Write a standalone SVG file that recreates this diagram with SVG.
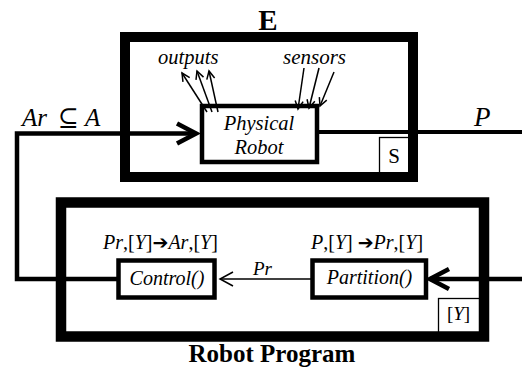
<svg xmlns="http://www.w3.org/2000/svg" width="522" height="369" viewBox="0 0 522 369" font-family="'Liberation Serif', 'Times New Roman', 'DejaVu Serif', serif">
<style>
.it{font-style:italic}
.frame{fill:none;stroke:#000;stroke-width:10.5}
.box{fill:#fff;stroke:#000;stroke-width:4.5}
.tag{fill:#fff;stroke:#000;stroke-width:1.3}
.wire{fill:none;stroke:#000;stroke-width:4.5}
.thin{fill:none;stroke:#000;stroke-width:1.5}
.arr{font-family:'DejaVu Sans',sans-serif;font-style:normal}
</style>
<defs>
<marker id="heavy" markerUnits="userSpaceOnUse" viewBox="0 0 26 26" markerWidth="26" markerHeight="26" refX="22" refY="13" orient="auto">
<path d="M3,3 L22,13 L3,23" fill="none" stroke="#000" stroke-width="4.5"/>
</marker>
<marker id="thinhead" markerUnits="userSpaceOnUse" viewBox="0 0 18 18" markerWidth="18" markerHeight="18" refX="15" refY="9" orient="auto">
<path d="M2,2 L15,9 L2,16" fill="none" stroke="#000" stroke-width="1.5"/>
</marker>
<marker id="small" markerUnits="userSpaceOnUse" viewBox="0 0 12 12" markerWidth="12" markerHeight="12" refX="10" refY="6" orient="auto">
<path d="M2,2 L10,6 L2,10" fill="none" stroke="#000" stroke-width="1.5"/>
</marker>
</defs>
<rect width="522" height="369" fill="#fff"/>

<g id="environment-E">
<rect class="tag" x="379.5" y="137.5" width="32" height="36"/>
<text x="394" y="163" font-size="21" text-anchor="middle">S</text>
<rect class="frame" x="125" y="37" width="288" height="140" style="stroke-width:10"/>
<text x="268" y="30" font-size="29" font-weight="bold" text-anchor="middle">E</text>
</g>

<g id="robot-program">
<rect class="tag" x="438.5" y="298.5" width="44" height="36"/>
<text x="458.5" y="320" font-size="19" text-anchor="middle">[<tspan class="it">Y</tspan>]</text>
<rect class="frame" x="61" y="202.5" width="423" height="134"/>
<text x="272" y="362" font-size="25" font-weight="bold" text-anchor="middle">Robot Program</text>
</g>

<g id="connectors">
<line class="wire" x1="319" y1="132" x2="522" y2="132" style="stroke-width:4"/>
<path class="wire" d="M118,279 H17 V133.5 H196" marker-end="url(#heavy)"/>
<path class="wire" d="M522,279 H430" marker-end="url(#heavy)"/>
<path class="thin" d="M312,279 H220" marker-end="url(#thinhead)"/>
<line class="thin" x1="207" y1="112" x2="182" y2="73" marker-end="url(#small)"/>
<line class="thin" x1="212" y1="112" x2="197" y2="71" marker-end="url(#small)"/>
<line class="thin" x1="218" y1="112" x2="209" y2="71" marker-end="url(#small)"/>
<line class="thin" x1="304" y1="68" x2="298" y2="109" marker-end="url(#small)"/>
<line class="thin" x1="319" y1="68" x2="309" y2="108" marker-end="url(#small)"/>
<line class="thin" x1="334" y1="72" x2="320" y2="106" marker-end="url(#small)"/>
</g>

<g id="physical-robot">
<rect class="box" x="202" y="106" width="115" height="56" style="fill:none"/>
<text class="it" x="259" y="130" font-size="20.5" text-anchor="middle">Physical</text>
<text class="it" x="259" y="154" font-size="20.5" text-anchor="middle">Robot</text>
</g>

<g id="control">
<rect class="box" x="118.5" y="260.5" width="96" height="37"/>
<text class="it" x="167" y="285" font-size="20" text-anchor="middle">Control()</text>
<text x="103" y="249" font-size="20"><tspan class="it">Pr</tspan>,[<tspan class="it">Y</tspan>]<tspan class="arr" font-size="19">➔</tspan><tspan class="it">Ar</tspan>,[<tspan class="it">Y</tspan>]</text>
</g>

<g id="partition">
<rect class="box" x="312.5" y="260.5" width="113.5" height="37"/>
<text class="it" x="369.5" y="284" font-size="20" text-anchor="middle">Partition()</text>
<text x="311" y="249" font-size="20"><tspan class="it">P</tspan>,[<tspan class="it">Y</tspan>] <tspan class="arr" font-size="19">➔</tspan><tspan class="it">Pr</tspan>,[<tspan class="it">Y</tspan>]</text>
</g>

<g id="labels">
<text x="22" y="126" font-size="25"><tspan class="it">Ar</tspan><tspan x="58">⊆</tspan><tspan class="it" x="85">A</tspan></text>
<text class="it" x="474" y="126" font-size="27">P</text>
<text class="it" x="253" y="275" font-size="19">Pr</text>
<text class="it" x="158" y="64" font-size="20.5">outputs</text>
<text class="it" x="283" y="64" font-size="21">sensors</text>
</g>
</svg>
